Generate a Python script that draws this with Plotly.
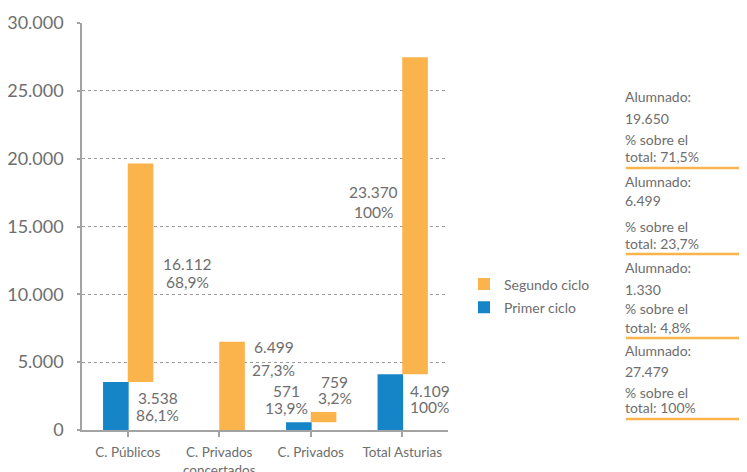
import plotly.graph_objects as go

# ---------------- data ----------------
categories = ["C. Públicos", "C. Privados<br>concertados", "C. Privados", "Total Asturias"]
primer_ciclo = [3538, 0, 571, 4109]
segundo_ciclo = [16112, 6499, 759, 23370]
primer_pct = ["86,1%", None, "13,9%", "100%"]
segundo_pct = ["68,9%", "27,3%", "3,2%", "100%"]
alumnado_total = [19650, 6499, 1330, 27479]
alumnado_pct = ["71,5%", "23,7%", "4,8%", "100%"]
y_tickvals = [0, 5000, 10000, 15000, 20000, 25000, 30000]
y_ticktext = ["0", "5.000", "10.000", "15.000", "20.000", "25.000", "30.000"]

# ---------------- style ----------------
ORANGE = "#FBB34C"
BLUE = "#1585C8"
TXT = "#6e6e6e"
AXIS = "#a3a3a3"
FONT = "Lato"

W, H = 747, 472
PAGE_OFF = 8                      # page body offset of the plot div
PLOT_L, PLOT_T = 82, 23           # plot area in page pixels
PW, PH = 366, 407
L, T = PLOT_L - PAGE_OFF, PLOT_T - PAGE_OFF
R, B = W - L - PW, H - T - PH
YMAX = 30000


def fmt(v):
    return f"{v:,}".replace(",", ".")


def py_to_y(py):
    return (PLOT_T + PH - py) / PH * YMAX


def py_to_paper(py):
    return (PLOT_T + PH - py) / PH


def px_to_paper(px):
    return (px - PLOT_L) / PW


fig = go.Figure()
fig.add_trace(go.Bar(
    x=list(range(len(categories))), y=primer_ciclo, name="Primer ciclo",
    marker=dict(color=BLUE, line=dict(width=0)),
    offset=-0.27, width=0.28, legendgroup="p", legendrank=2,
))
fig.add_trace(go.Bar(
    x=list(range(len(categories))), y=segundo_ciclo, base=primer_ciclo, name="Segundo ciclo",
    marker=dict(color=ORANGE, line=dict(width=0)),
    offset=0.0, width=0.28, legendgroup="s", legendrank=1,
))

annotations = []
# label placements (category offset, line1 pixel y, line2 pixel y)
primer_pos = [(0.33, 398, 415), None, (-0.27, 391, 408), (0.303, 391, 407)]
segundo_pos = [(0.653, 264, 282), (0.598, 347, 370), (0.26, 382, 398), (-0.31, 192, 212)]

for i in range(len(categories)):
    for vals, pcts, pos in ((primer_ciclo, primer_pct, primer_pos),
                            (segundo_ciclo, segundo_pct, segundo_pos)):
        if pos[i] is None or pcts[i] is None:
            continue
        dx, y1, y2 = pos[i]
        for txt, yy in ((fmt(vals[i]), y1), (pcts[i], y2)):
            annotations.append(dict(
                x=i + dx, y=py_to_y(yy), xref="x", yref="y", text=txt,
                showarrow=False, xanchor="center", yanchor="middle", borderpad=0,
                font=dict(family=FONT, size=15.5, color=TXT),
            ))

# right-side summary blocks (pixel y of each line and of the rule)
blocks_y = [(97, 118, 139, 156, 168), (181, 201, 227, 243, 254),
            (267, 289, 308, 327, 338), (350, 371, 392, 407, 419)]
shapes = []
x_left = px_to_paper(626)
for i, (ya, yv, yp1, yp2, yr) in enumerate(blocks_y):
    lines = [("Alumnado:", ya), (fmt(alumnado_total[i]), yv),
             ("% sobre el", yp1), ("total: " + alumnado_pct[i], yp2)]
    for txt, yy in lines:
        annotations.append(dict(
            x=px_to_paper(624), y=py_to_paper(yy), xref="paper", yref="paper", text=txt,
            showarrow=False, xanchor="left", yanchor="middle", borderpad=0,
            font=dict(family=FONT, size=14, color=TXT),
        ))
    shapes.append(dict(
        type="line", xref="paper", yref="paper",
        x0=x_left, x1=px_to_paper(W + 5), y0=py_to_paper(yr), y1=py_to_paper(yr),
        line=dict(color=ORANGE, width=2.5),
    ))

fig.update_layout(
    width=W, height=H,
    margin=dict(l=L, r=R, t=T, b=B, pad=0, autoexpand=False),
    paper_bgcolor="white", plot_bgcolor="white",
    barmode="overlay",
    font=dict(family=FONT, color=TXT),
    showlegend=True,
    legend=dict(
        x=px_to_paper(464), xanchor="left",
        y=py_to_paper(296), yanchor="middle",
        traceorder="grouped", tracegroupgap=2,
        font=dict(family=FONT, size=14, color=TXT),
        itemwidth=30, bgcolor="rgba(0,0,0,0)",
    ),
    annotations=annotations,
    shapes=shapes,
    xaxis=dict(
        tickmode="array", tickvals=list(range(len(categories))), ticktext=categories,
        range=[-0.5, len(categories) - 0.5], automargin=False,
        showline=True, linecolor=AXIS, linewidth=1.5,
        ticks="outside", ticklen=5, tickcolor=AXIS, tickwidth=1.5,
        showgrid=False, zeroline=False, ticklabelstandoff=4,
        tickfont=dict(family=FONT, size=13.5, color=TXT),
    ),
    yaxis=dict(
        range=[0, YMAX], tickvals=y_tickvals, ticktext=y_ticktext, automargin=False,
        showline=True, linecolor=AXIS, linewidth=1.5,
        ticks="outside", ticklen=3, tickcolor=AXIS, tickwidth=1.5,
        showgrid=True, gridcolor="#9a9a9a", griddash="dot", gridwidth=1,
        zeroline=False, ticklabelstandoff=10,
        tickfont=dict(family=FONT, size=18, color=TXT),
    ),
)

fig.write_html("out.html")
